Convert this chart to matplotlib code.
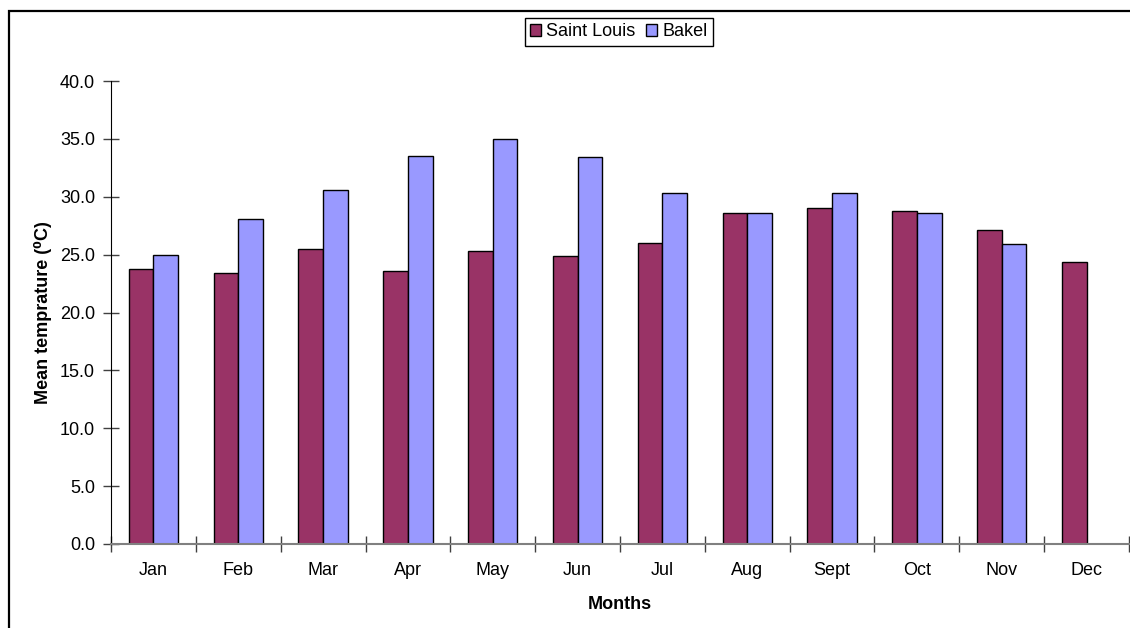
import matplotlib.pyplot as plt
import matplotlib.patches as mpatches
import numpy as np

plt.rcParams['font.family'] = ['Liberation Sans', 'DejaVu Sans']

months = ['Jan', 'Feb', 'Mar', 'Apr', 'May', 'Jun', 'Jul', 'Aug', 'Sept', 'Oct', 'Nov', 'Dec']
saint_louis = [23.8, 23.4, 25.5, 23.6, 25.3, 24.9, 26.0, 28.6, 29.0, 28.8, 27.1, 24.4]
bakel = [25.0, 28.1, 30.6, 33.5, 35.0, 33.4, 30.3, 28.6, 30.3, 28.6, 25.9, np.nan]

SL_COLOR = '#993366'
BK_COLOR = '#9999FF'
FS = 13

fig = plt.figure(figsize=(11.3, 6.28), dpi=100)
ax = fig.add_axes([111 / 1130, 1 - 544 / 628, 1018 / 1130, 463 / 628])

x = np.arange(len(months))
w = 0.29
ax.bar(x - w / 2, saint_louis, w, color=SL_COLOR, edgecolor='black', linewidth=1, label='Saint Louis')
ax.bar(x + w / 2, bakel, w, color=BK_COLOR, edgecolor='black', linewidth=1, label='Bakel')

ax.set_xlim(-0.5, len(months) - 0.5)
ax.set_ylim(0, 40)
ax.set_yticks(np.arange(0, 41, 5))
ax.set_yticklabels(['%.1f' % v for v in np.arange(0, 41, 5)], fontsize=FS)

# category boundaries get the tick marks, labels sit in between
ax.set_xticks(np.arange(-0.5, len(months)))
ax.set_xticklabels([])
ax.set_xticks(x, minor=True)
ax.set_xticklabels(months, minor=True, fontsize=FS)
ax.tick_params(axis='x', which='major', direction='inout', length=12, color='#404040', width=1)
ax.tick_params(axis='x', which='minor', length=0, pad=13)
ax.tick_params(axis='y', direction='inout', length=11, color='#404040', width=1, pad=6)

for s in ['top', 'right']:
    ax.spines[s].set_visible(False)
ax.spines['left'].set_color('black')
ax.spines['bottom'].set_color('#808080')
ax.spines['bottom'].set_linewidth(1.5)

ax.set_xlabel('Months', fontsize=FS, fontweight='bold', labelpad=12)
ax.set_ylabel('Mean temprature (\u2070C)', fontsize=FS, fontweight='bold', labelpad=6)

fig.legend(loc='center', bbox_to_anchor=(619 / 1130, 1 - 32 / 628), ncol=2, fontsize=FS,
           frameon=True, fancybox=False, edgecolor='black', framealpha=1,
           handlelength=0.6, handleheight=0.6, handletextpad=0.3, columnspacing=0.6,
           borderpad=0.3, borderaxespad=0)

# outer chart frame (runs off the right and bottom edges)
frame = mpatches.Rectangle((9 / 1130, -0.1), 1.2, 1.1 - 11 / 628, transform=fig.transFigure,
                           fill=False, edgecolor='black', linewidth=1.6, clip_on=False)
fig.patches.append(frame)

fig.savefig('out.png', dpi=100)
